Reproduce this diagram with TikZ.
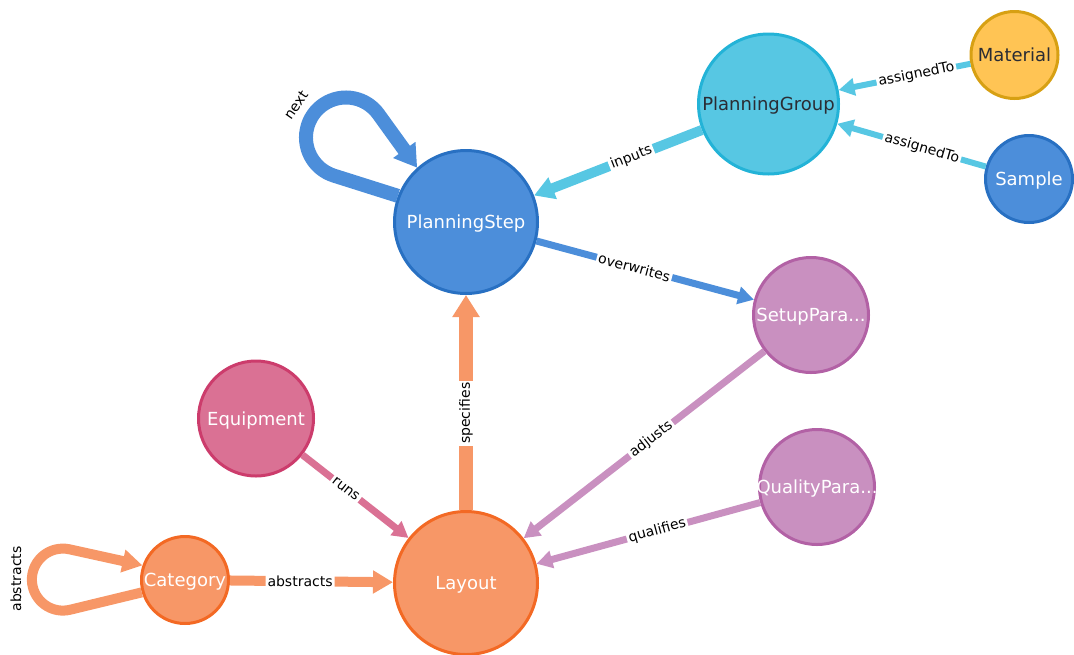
\documentclass[tikz,border=0pt]{standalone}
\usepackage{fontspec}
\setmainfont{DejaVu Sans}
\usetikzlibrary{arrows.meta}
\definecolor{blueF}{HTML}{4C8EDA}
\definecolor{blueD}{HTML}{2870C2}
\definecolor{cyanF}{HTML}{57C7E3}
\definecolor{cyanD}{HTML}{23B3D7}
\definecolor{yellowF}{HTML}{FFC454}
\definecolor{yellowD}{HTML}{D7A013}
\definecolor{purpleF}{HTML}{C990C0}
\definecolor{purpleD}{HTML}{B261A5}
\definecolor{pinkF}{HTML}{DA7194}
\definecolor{pinkD}{HTML}{CC3C6C}
\definecolor{orangeF}{HTML}{F79767}
\definecolor{orangeD}{HTML}{F36924}
\definecolor{darkT}{HTML}{2A2C34}
\begin{document}
\begin{tikzpicture}[x=1pt,y=-1pt,
	ent/.style={circle,line width=3pt,inner sep=0pt,text=white,text height=13pt,text depth=0pt,font=\fontsize{18}{20}\selectfont},
	sizeL/.style={minimum size=143pt},
	sizeM/.style={minimum size=115pt},
	sizeS/.style={minimum size=87pt},
	lbl/.style={text=black,font=\fontsize{14}{16}\selectfont},
	onedge/.style={lbl,fill=white,inner sep=2pt,sloped},
	relS/.style={line width=7pt,-{Triangle[length=16pt,width=17pt]}},
	relM/.style={line width=10pt,-{Triangle[length=20pt,width=22pt]}},
	relL/.style={line width=14pt,-{Triangle[length=22pt,width=26pt]}}]
\useasboundingbox (0,0) rectangle (1074,654);
% nodes
\node[ent,sizeL,fill=blueF,draw=blueD] (ps) at (466,222) {PlanningStep};
\node[ent,fill=cyanF,draw=cyanD,text=darkT,minimum size=140pt] (pg) at (768.5,104) {PlanningGroup};
\node[ent,sizeS,fill=yellowF,draw=yellowD,text=darkT] (mat) at (1014.5,55) {Material};
\node[ent,sizeS,fill=blueF,draw=blueD] (smp) at (1029,179) {Sample};
\node[ent,sizeM,fill=purpleF,draw=purpleD] (sp) at (811,315) {SetupPara...};
\node[ent,sizeM,fill=purpleF,draw=purpleD] (qp) at (817,487) {\makebox[0pt]{QualityPara...}};
\node[ent,sizeM,fill=pinkF,draw=pinkD] (eq) at (256,418.5) {Equipment};
\node[ent,sizeL,fill=orangeF,draw=orangeD] (lay) at (466,583) {Layout};
\node[ent,sizeS,fill=orangeF,draw=orangeD] (cat) at (185,580) {Category};
% relationships
\draw[relM,draw=cyanF] (pg) -- (ps) node[onedge,pos=0.42] {inputs};
\draw[relS,draw=cyanF,line width=6pt] (mat) -- (pg) node[onedge,pos=0.41] {assignedTo};
\draw[relS,draw=cyanF,line width=6pt] (smp) -- (pg) node[onedge,pos=0.43] {assignedTo};
\draw[relS,draw=blueF] (ps) -- (sp) node[onedge,pos=0.45] {overwrites};
\draw[relL,draw=orangeF] (lay) -- (ps) node[onedge,pos=0.45] {specifies};
\draw[relS,draw=pinkF] (eq) -- (lay) node[onedge,pos=0.41] {runs};
\draw[relS,draw=purpleF] (sp) -- (lay) node[onedge,pos=0.47] {adjusts};
\draw[relS,draw=purpleF] (qp) -- (lay) node[onedge,pos=0.46] {qualifies};
\draw[relM,draw=orangeF] (cat) -- (lay) node[onedge,pos=0.43] {abstracts};
% self loops
\draw[relL,draw=blueF,line join=round] (ps.159) -- ++(-63.9,-20.2)
	arc[start angle=252.5,end angle=36.4,radius=40pt] -- (ps.132);
\node[lbl,rotate=55] (nextlbl) at (296,105) {next};
\draw[relM,draw=orangeF,line join=round] (cat.196.5) -- ++(-71.5,17.3)
	arc[start angle=283.7,end angle=77.9,radius=31pt] -- (cat.161);
\node[lbl,rotate=90] (abslbl) at (16,579) {abstracts};
\end{tikzpicture}
\end{document}
